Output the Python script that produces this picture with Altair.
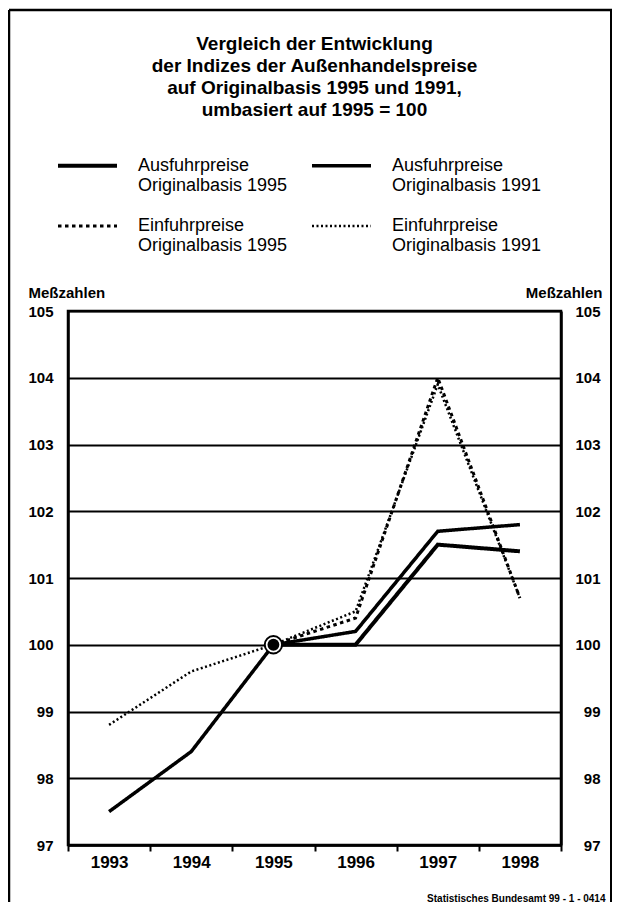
import altair as alt
import pandas as pd

# ---- data ----
years = ["1993", "1994", "1995", "1996", "1997", "1998"]
series_names = [
    "Ausfuhrpreise|Originalbasis 1995",
    "Ausfuhrpreise|Originalbasis 1991",
    "Einfuhrpreise|Originalbasis 1995",
    "Einfuhrpreise|Originalbasis 1991",
]
ausfuhr_1995 = [None, None, 100.0, 100.0, 101.5, 101.4]
ausfuhr_1991 = [97.5, 98.4, 100.0, 100.2, 101.7, 101.8]
einfuhr_1995 = [None, None, 100.0, 100.4, 104.0, 100.7]
einfuhr_1991 = [98.8, 99.6, 100.0, 100.5, 103.9, 100.7]
y_ticks = [97, 98, 99, 100, 101, 102, 103, 104, 105]
marker_year = ["1995"]
marker_value = [100.0]

title_lines = [
    "Vergleich der Entwicklung",
    "der Indizes der Außenhandelspreise",
    "auf Originalbasis 1995 und 1991,",
    "umbasiert auf 1995 = 100",
]
source_text = "Statistisches Bundesamt 99 - 1 - 0414"

rows = []
for name, vals in zip(series_names, [ausfuhr_1995, ausfuhr_1991, einfuhr_1995, einfuhr_1991]):
    for yr, v in zip(years, vals):
        if v is not None:
            rows.append({"Jahr": yr, "Wert": v, "Reihe": name})
df = pd.DataFrame(rows)
marker_df = pd.DataFrame({"Jahr": marker_year, "Wert": marker_value})
frame_df = pd.DataFrame({"k": [0]})

FONT = "Liberation Sans"

x_enc = alt.X(
    "Jahr:O",
    bandPosition=0.5,
    scale=alt.Scale(type="band", domain=years, paddingInner=0, paddingOuter=0),
    axis=alt.Axis(
        tickBand="extent", ticks=True, tickSize=6, tickWidth=2, tickColor="black",
        domain=True, domainColor="black", domainWidth=2.5,
        labelAngle=0, labelFontSize=17, labelFontWeight="bold", labelColor="black",
        labelFont=FONT, labelPadding=3, grid=False,
        title=source_text, titleFont=FONT, titleFontSize=10, titleFontWeight="bold",
        titleColor="black", titleAnchor="end", titleAlign="right", titleBaseline="middle",
        titleX=537, titleY=53,
    ),
)

y_scale = alt.Scale(domain=[97, 105], nice=False, zero=False)

left_axis = alt.Axis(
    values=y_ticks, tickSize=0, labelPadding=15, labelFontSize=15, labelFontWeight="bold",
    labelFont=FONT, labelColor="black", grid=True, gridColor="black", gridWidth=2.2,
    domain=True, domainColor="black", domainWidth=2.5,
    title="Meßzahlen", titleAngle=0, titleAlign="left", titleBaseline="middle",
    titleX=-40, titleY=-19, titleFont=FONT, titleFontSize=15, titleFontWeight="bold",
    titleColor="black",
)
right_axis = alt.Axis(
    orient="right", values=y_ticks, tickSize=0, labelPadding=39, labelAlign="right",
    labelFontSize=15, labelFontWeight="bold", labelFont=FONT, labelColor="black",
    grid=False, domain=True, domainColor="black", domainWidth=2.5,
    title="Meßzahlen", titleAngle=0, titleAlign="right", titleBaseline="middle",
    titleX=41, titleY=-19, titleFont=FONT, titleFontSize=15, titleFontWeight="bold",
    titleColor="black",
)

legend = alt.Legend(
    title=None, orient="none", legendX=-12, legendY=-177, columns=2, direction="horizontal",
    columnPadding=17, rowPadding=-9, symbolType="stroke", symbolSize=3481,
    symbolStrokeColor="black", labelFont=FONT, labelFontSize=18, labelColor="black",
    labelOffset=19, labelLimit=0, labelExpr="split(datum.label, '|')",
)

lines = alt.Chart(df).mark_line(color="black", strokeJoin="miter").encode(
    x=x_enc,
    y=alt.Y("Wert:Q", scale=y_scale, axis=left_axis),
    detail="Reihe:N",
    strokeDash=alt.StrokeDash(
        "Reihe:N",
        scale=alt.Scale(domain=series_names, range=[[1, 0], [1, 0], [3.5, 3.5], [2, 2.5]]),
        legend=legend,
    ),
    strokeWidth=alt.StrokeWidth(
        "Reihe:N",
        scale=alt.Scale(type="point", domain=series_names, range=[4, 2.5], padding=0),
        legend=legend,
    ),
)

ring = alt.Chart(marker_df).mark_point(
    shape="circle", filled=True, fill="white", stroke="black", strokeWidth=2, size=300, opacity=1
).encode(x=x_enc, y=alt.Y("Wert:Q", scale=y_scale, axis=right_axis))

dot = alt.Chart(marker_df).mark_point(
    shape="circle", filled=True, fill="black", strokeWidth=0, size=140, opacity=1
).encode(x=x_enc, y=alt.Y("Wert:Q", scale=y_scale, axis=None))

frame_left = alt.Chart(frame_df).mark_rule(color="black", strokeWidth=2.5).encode(
    x=alt.value(-59), y=alt.value(-301), y2=alt.value(600)
)
frame_top = alt.Chart(frame_df).mark_rule(color="black", strokeWidth=2.5).encode(
    x=alt.value(-59), x2=alt.value(544), y=alt.value(-301)
)
frame_right = alt.Chart(frame_df).mark_rule(color="black", strokeWidth=2).encode(
    x=alt.value(543), y=alt.value(-301), y2=alt.value(600)
)

chart = (
    alt.layer(lines, ring, dot, frame_left, frame_top, frame_right)
    .resolve_scale(y="shared")
    .resolve_axis(y="independent")
    .properties(
        width=493, height=534,
        autosize=alt.AutoSizeParams(type="none"),
        padding={"left": 60, "top": 303, "right": 52, "bottom": 57},
        background="white",
        title=alt.TitleParams(
            text=title_lines, font=FONT, fontSize=19, fontWeight="bold", color="black",
            lineHeight=22, anchor="middle", frame="group", offset=-111,
        ),
    )
    .configure_view(stroke="black", strokeWidth=2.5)
)

chart.save("out.html", embed_options={"renderer": "svg", "actions": False})
